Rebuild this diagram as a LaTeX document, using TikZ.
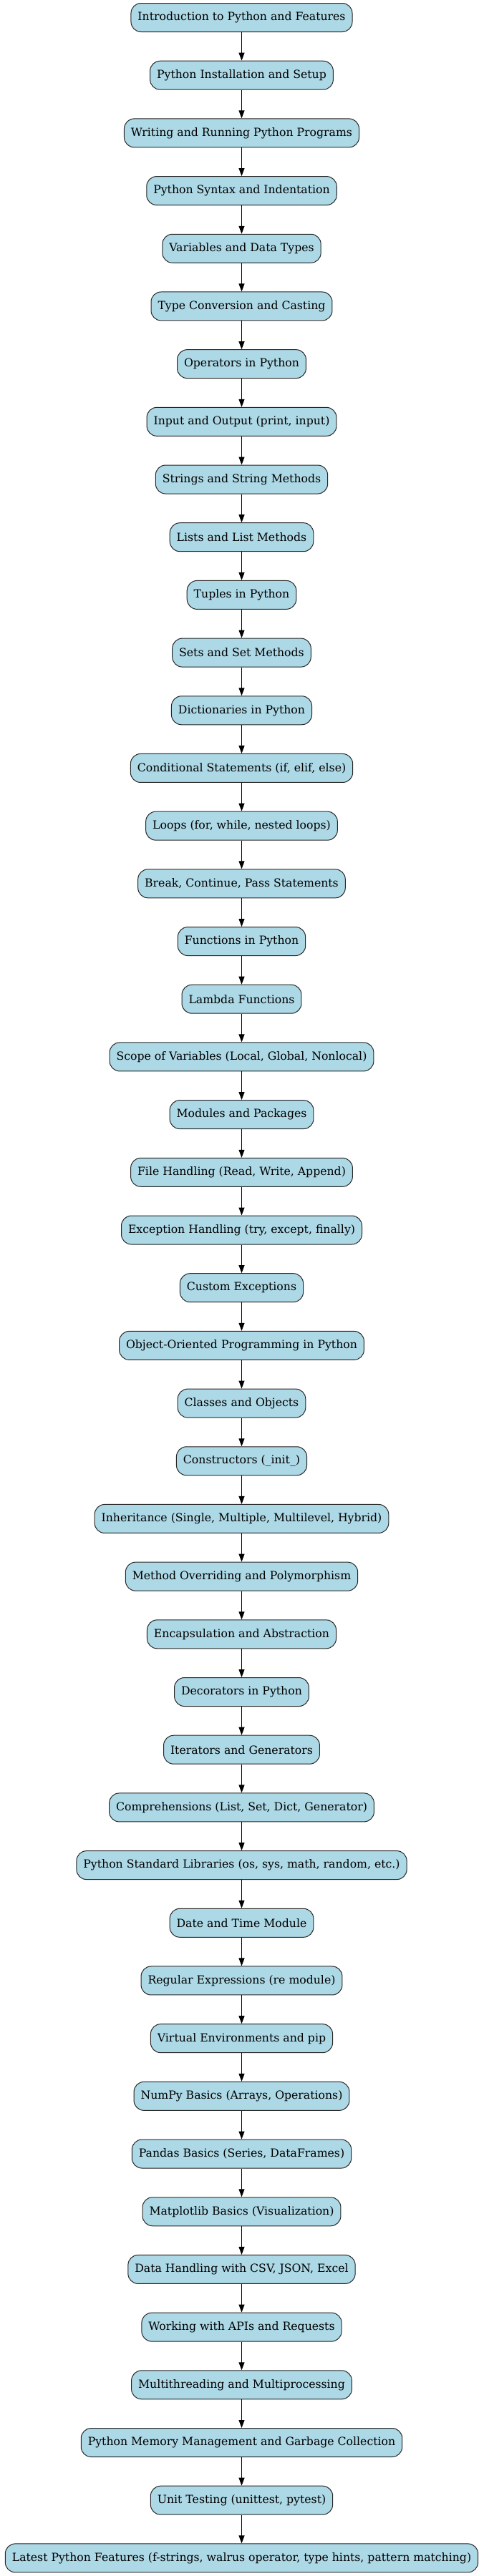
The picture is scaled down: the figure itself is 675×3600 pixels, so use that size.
\documentclass[tikz,border=0pt]{standalone}
\usepackage{fontspec}
\setmainfont{DejaVu Serif}
\usetikzlibrary{arrows.meta}
\definecolor{topicblue}{HTML}{ADD8E6}
\begin{document}
\begin{tikzpicture}[x=1pt,y=1pt,
  topic/.style={draw=black!85, fill=topicblue, rounded corners=14pt, minimum height=40pt,
    inner xsep=9.5pt, inner ysep=0pt, font=\fontsize{15.7}{18}\selectfont, line width=1pt},
  link/.style={-{Triangle[length=11pt,width=8pt]}, line width=1pt}]
\useasboundingbox (0,0) rectangle (675,-3600);
\foreach [count=\i] \t in {
  {Introduction to Python and Features},
  {Python Installation and Setup},
  {Writing and Running Python Programs},
  {Python Syntax and Indentation},
  {Variables and Data Types},
  {Type Conversion and Casting},
  {Operators in Python},
  {Input and Output (print, input)},
  {Strings and String Methods},
  {Lists and List Methods},
  {Tuples in Python},
  {Sets and Set Methods},
  {Dictionaries in Python},
  {Conditional Statements (if, elif, else)},
  {Loops (for, while, nested loops)},
  {Break, Continue, Pass Statements},
  {Functions in Python},
  {Lambda Functions},
  {Scope of Variables (Local, Global, Nonlocal)},
  {Modules and Packages},
  {File Handling (Read, Write, Append)},
  {Exception Handling (try, except, finally)},
  {Custom Exceptions},
  {Object-Oriented Programming in Python},
  {Classes and Objects},
  {Constructors (\_init\_)},
  {Inheritance (Single, Multiple, Multilevel, Hybrid)},
  {Method Overriding and Polymorphism},
  {Encapsulation and Abstraction},
  {Decorators in Python},
  {Iterators and Generators},
  {Comprehensions (List, Set, Dict, Generator)},
  {Python Standard Libraries (os, sys, math, random, etc.)},
  {Date and Time Module},
  {Regular Expressions (re module)},
  {Virtual Environments and pip},
  {NumPy Basics (Arrays, Operations)},
  {Pandas Basics (Series, DataFrames)},
  {Matplotlib Basics (Visualization)},
  {Data Handling with CSV, JSON, Excel},
  {Working with APIs and Requests},
  {Multithreading and Multiprocessing},
  {Python Memory Management and Garbage Collection},
  {Unit Testing (unittest, pytest)},
  {Latest Python Features (f-strings, walrus operator, type hints, pattern matching)}
} {
  \node[topic] (n\i) at (337.5, {-24.5-80.69*(\i-1)}) {\t};
}
\foreach \i in {2,...,45} {
  \pgfmathtruncatemacro\j{\i-1}
  \draw[link] (n\j) -- (n\i);
}
\end{tikzpicture}
\end{document}
